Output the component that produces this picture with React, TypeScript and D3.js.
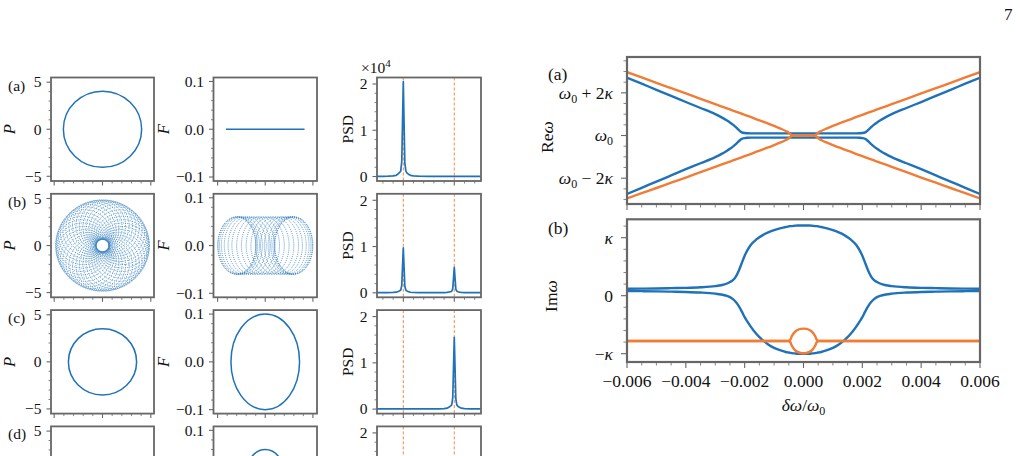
import React from "react";
import * as d3 from "d3";

const W = 1020;
const H = 456;
const BLUE = "#1f72b8";
const ORANGE = "#f07c35";
const AXIS = "#676767";
const SERIF = "'Liberation Serif', 'DejaVu Serif', 'Times New Roman', serif";

// ---------------- Left figure data ----------------
const rowLabels = ["(a)", "(b)", "(c)", "(d)"];
// single-mode circle radius in the P plane (0 = none)
const pRadius = [4.05, 0, 3.53, 2.1];
// row (b): two-mode trajectory drawn as a rosette of circles
const pRosetteAngles = [0, 10, 20, 30, 40, 50, 60, 70, 80, 90, 100, 110, 120, 130, 140, 150, 160, 170, 180, 190, 200, 210, 220, 230, 240, 250, 260, 270, 280, 290, 300, 310, 320, 330, 340, 350];
const pRosetteOffset = 2.1;
const pRosetteRadius = 2.75;
// F plane
const fLineHalf = [0.0825, 0, 0, 0];
const fEllipseRx = [0, 0, 0.072, 0.043];
const fEllipseRy = [0, 0, 0.1, 0.06];
const fRosetteCenters = [-0.06, -0.059, -0.056, -0.052, -0.046, -0.038, -0.03, -0.02, -0.01, 0, 0.01, 0.02, 0.03, 0.038, 0.046, 0.052, 0.056, 0.059, 0.06];
const fRosetteRx = 0.04;
const fRosetteRy = 0.06;
// PSD (x1e4)
const psdModeFreq = [0, 5];
const psdFreq = [-2.6, -2.0, -1.5, -1.0, -0.7, -0.5, -0.35, -0.25, -0.15, -0.08, 0, 0.08, 0.15, 0.25, 0.35, 0.5, 0.7, 1.0, 1.5, 2.5, 3.5, 4.0, 4.3, 4.5, 4.65, 4.75, 4.85, 4.92, 5.0, 5.08, 5.15, 5.25, 5.35, 5.5, 5.7, 6.0, 6.5, 7.0, 7.6];
const psdA = [0.004, 0.005, 0.007, 0.012, 0.025, 0.06, 0.09, 0.12, 0.33, 1.15, 2.05, 1.1, 0.29, 0.12, 0.08, 0.05, 0.025, 0.012, 0.007, 0.004, 0.003, 0.003, 0.003, 0.003, 0.003, 0.003, 0.003, 0.003, 0.003, 0.003, 0.003, 0.003, 0.003, 0.003, 0.003, 0.003, 0.003, 0.003, 0.003];
const psdB = [0.004, 0.005, 0.006, 0.008, 0.013, 0.03, 0.045, 0.06, 0.16, 0.55, 0.97, 0.52, 0.14, 0.06, 0.04, 0.025, 0.012, 0.007, 0.005, 0.004, 0.004, 0.006, 0.008, 0.018, 0.026, 0.035, 0.09, 0.31, 0.55, 0.3, 0.08, 0.035, 0.024, 0.015, 0.008, 0.005, 0.004, 0.004, 0.004];
const psdC = [0.003, 0.003, 0.003, 0.003, 0.003, 0.003, 0.003, 0.003, 0.003, 0.003, 0.003, 0.003, 0.003, 0.003, 0.003, 0.003, 0.003, 0.003, 0.003, 0.003, 0.003, 0.009, 0.02, 0.045, 0.07, 0.09, 0.25, 0.87, 1.55, 0.84, 0.22, 0.09, 0.06, 0.04, 0.02, 0.01, 0.005, 0.004, 0.003];
const psdD = [0.003, 0.003, 0.003, 0.003, 0.003, 0.003, 0.003, 0.003, 0.003, 0.003, 0.003, 0.003, 0.003, 0.003, 0.003, 0.003, 0.003, 0.003, 0.003, 0.003, 0.003, 0.005, 0.008, 0.018, 0.027, 0.036, 0.1, 0.34, 0.6, 0.33, 0.09, 0.036, 0.025, 0.016, 0.008, 0.005, 0.004, 0.003, 0.003];
const psdRows = [psdA, psdB, psdC, psdD];

// ---------------- Right figure data ----------------
const deltaX = [-0.006, -0.0055, -0.005, -0.0045, -0.004, -0.0035, -0.003, -0.0028, -0.0026, -0.0025, -0.0024, -0.0023, -0.0022, -0.0021, -0.002, -0.0019, -0.0018, -0.0016, -0.0014, -0.0012, -0.001, -0.0008, -0.0006, -0.0005, -0.00045, -0.0004, -0.0003, -0.0002, -0.0001, 0, 0.0001, 0.0002, 0.0003, 0.0004, 0.00045, 0.0005, 0.0006, 0.0008, 0.001, 0.0012, 0.0014, 0.0016, 0.0018, 0.0019, 0.002, 0.0021, 0.0022, 0.0023, 0.0024, 0.0025, 0.0026, 0.0028, 0.003, 0.0035, 0.004, 0.0045, 0.005, 0.0055, 0.006];
// Re(omega - omega0) in units of kappa
const blueReUp = [2.71, 2.43, 2.14, 1.86, 1.57, 1.29, 1.0, 0.86, 0.7, 0.61, 0.51, 0.39, 0.26, 0.15, 0.115, 0.105, 0.1, 0.1, 0.1, 0.1, 0.1, 0.1, 0.1, 0.1, 0.1, 0.1, 0.1, 0.1, 0.1, 0.1, 0.1, 0.1, 0.1, 0.1, 0.1, 0.1, 0.1, 0.1, 0.1, 0.1, 0.1, 0.1, 0.1, 0.105, 0.115, 0.15, 0.26, 0.39, 0.51, 0.61, 0.7, 0.86, 1.0, 1.29, 1.57, 1.86, 2.14, 2.43, 2.71];
const blueReLo = [-2.74, -2.45, -2.16, -1.87, -1.58, -1.3, -1.01, -0.87, -0.71, -0.62, -0.52, -0.4, -0.27, -0.16, -0.12, -0.105, -0.1, -0.1, -0.1, -0.1, -0.1, -0.1, -0.1, -0.1, -0.1, -0.1, -0.1, -0.1, -0.1, -0.1, -0.1, -0.1, -0.1, -0.1, -0.1, -0.1, -0.1, -0.1, -0.1, -0.1, -0.1, -0.1, -0.1, -0.105, -0.12, -0.16, -0.27, -0.4, -0.52, -0.62, -0.71, -0.87, -1.01, -1.3, -1.58, -1.87, -2.16, -2.45, -2.74];
const orangeReUp = [2.97, 2.72, 2.47, 2.22, 1.97, 1.72, 1.47, 1.37, 1.27, 1.22, 1.17, 1.12, 1.07, 1.02, 0.97, 0.92, 0.87, 0.76, 0.66, 0.56, 0.45, 0.335, 0.21, 0.13, 0.07, 0.02, 0, 0, 0, 0, 0, 0, 0, 0.02, 0.07, 0.13, 0.21, 0.335, 0.45, 0.56, 0.66, 0.76, 0.87, 0.92, 0.97, 1.02, 1.07, 1.12, 1.17, 1.22, 1.27, 1.37, 1.47, 1.72, 1.97, 2.22, 2.47, 2.72, 2.97];
const orangeReLo = [-2.95, -2.7, -2.46, -2.21, -1.97, -1.72, -1.47, -1.37, -1.27, -1.22, -1.17, -1.12, -1.07, -1.02, -0.97, -0.92, -0.87, -0.76, -0.66, -0.56, -0.45, -0.335, -0.21, -0.13, -0.07, -0.02, 0, 0, 0, 0, 0, 0, 0, -0.02, -0.07, -0.13, -0.21, -0.335, -0.45, -0.56, -0.66, -0.76, -0.87, -0.92, -0.97, -1.02, -1.07, -1.12, -1.17, -1.22, -1.27, -1.37, -1.47, -1.72, -1.97, -2.21, -2.46, -2.7, -2.95];
// Im(omega) in units of kappa
const blueImUp = [0.12, 0.122, 0.125, 0.13, 0.135, 0.145, 0.165, 0.18, 0.21, 0.235, 0.27, 0.33, 0.43, 0.56, 0.69, 0.79, 0.87, 0.97, 1.04, 1.09, 1.13, 1.16, 1.185, 1.195, 1.2, 1.2, 1.205, 1.21, 1.21, 1.21, 1.21, 1.21, 1.205, 1.2, 1.2, 1.195, 1.185, 1.16, 1.13, 1.09, 1.04, 0.97, 0.87, 0.79, 0.69, 0.56, 0.43, 0.33, 0.27, 0.235, 0.21, 0.18, 0.165, 0.145, 0.135, 0.13, 0.125, 0.122, 0.12];
const blueImLo = [0.08, 0.078, 0.075, 0.07, 0.065, 0.055, 0.035, 0.02, -0.005, -0.025, -0.06, -0.11, -0.18, -0.27, -0.37, -0.45, -0.53, -0.66, -0.76, -0.84, -0.9, -0.94, -0.97, -0.98, -0.985, -0.99, -0.995, -1.0, -1.0, -1.0, -1.0, -1.0, -0.995, -0.99, -0.985, -0.98, -0.97, -0.94, -0.9, -0.84, -0.76, -0.66, -0.53, -0.45, -0.37, -0.27, -0.18, -0.11, -0.06, -0.025, -0.005, 0.02, 0.035, 0.055, 0.065, 0.07, 0.075, 0.078, 0.08];
const orangeImUp = [-0.78, -0.78, -0.78, -0.78, -0.78, -0.78, -0.78, -0.78, -0.78, -0.78, -0.78, -0.78, -0.78, -0.78, -0.78, -0.78, -0.78, -0.78, -0.78, -0.78, -0.78, -0.78, -0.78, -0.775, -0.76, -0.7, -0.627, -0.591, -0.572, -0.567, -0.572, -0.591, -0.627, -0.7, -0.76, -0.775, -0.78, -0.78, -0.78, -0.78, -0.78, -0.78, -0.78, -0.78, -0.78, -0.78, -0.78, -0.78, -0.78, -0.78, -0.78, -0.78, -0.78, -0.78, -0.78, -0.78, -0.78, -0.78, -0.78];
const orangeImLo = [-0.78, -0.78, -0.78, -0.78, -0.78, -0.78, -0.78, -0.78, -0.78, -0.78, -0.78, -0.78, -0.78, -0.78, -0.78, -0.78, -0.78, -0.78, -0.78, -0.78, -0.78, -0.78, -0.78, -0.785, -0.8, -0.86, -0.933, -0.969, -0.988, -0.993, -0.988, -0.969, -0.933, -0.86, -0.8, -0.785, -0.78, -0.78, -0.78, -0.78, -0.78, -0.78, -0.78, -0.78, -0.78, -0.78, -0.78, -0.78, -0.78, -0.78, -0.78, -0.78, -0.78, -0.78, -0.78, -0.78, -0.78, -0.78, -0.78];

const xTickValsRight = [-0.006, -0.004, -0.002, 0, 0.002, 0.004, 0.006];
const xTickLabelsRight = ["\u22120.006", "\u22120.004", "\u22120.002", "0.000", "0.002", "0.004", "0.006"];

type Scale = d3.ScaleLinear<number, number>;

function minorOf(start: number, stop: number, step: number, majors: number[]) {
  const n = Math.round((stop - start) / step);
  const out: number[] = [];
  for (let i = 0; i <= n; i++) {
    const v = start + i * step;
    if (!majors.some((m) => Math.abs(m - v) < step * 1e-3)) out.push(v);
  }
  return out;
}

type FrameProps = {
  x: number; y: number; w: number; h: number;
  xs: Scale; ys: Scale;
  xMajor: number[]; xMinor: number[]; yMajor: number[]; yMinor: number[];
  yLabels?: React.ReactNode[]; xLabels?: React.ReactNode[];
  fs: number; majLen: number; minLen: number; pad: number; spineW: number;
  xLabelBase?: number;
};

function Frame(p: FrameProps) {
  const b = p.y + p.h;
  return (
    <g>
      {p.xMinor.map((v, i) => (
        <line key={"xn" + i} x1={p.xs(v)} x2={p.xs(v)} y1={b} y2={b + p.minLen} stroke={AXIS} strokeWidth={0.8} />
      ))}
      {p.xMajor.map((v, i) => (
        <line key={"xj" + i} x1={p.xs(v)} x2={p.xs(v)} y1={b} y2={b + p.majLen} stroke={AXIS} strokeWidth={1.1} />
      ))}
      {p.yMinor.map((v, i) => (
        <line key={"yn" + i} x1={p.x - p.minLen} x2={p.x} y1={p.ys(v)} y2={p.ys(v)} stroke={AXIS} strokeWidth={0.8} />
      ))}
      {p.yMajor.map((v, i) => (
        <line key={"yj" + i} x1={p.x - p.majLen} x2={p.x} y1={p.ys(v)} y2={p.ys(v)} stroke={AXIS} strokeWidth={1.1} />
      ))}
      {p.yLabels &&
        p.yMajor.map((v, i) =>
          p.ys(v) < H - 8 ? (
            <text key={"yl" + i} x={p.x - p.majLen - p.pad} y={p.ys(v)} dy="0.34em" textAnchor="end" fontSize={p.fs} fill="#111">
              {p.yLabels![i]}
            </text>
          ) : null
        )}
      {p.xLabels &&
        p.xMajor.map((v, i) => (
          <text key={"xl" + i} x={p.xs(v)} y={p.xLabelBase ?? b + 24} textAnchor="middle" fontSize={p.fs} fill="#111">
            {p.xLabels![i]}
          </text>
        ))}
      <rect x={p.x} y={p.y} width={p.w} height={p.h} fill="none" stroke={AXIS} strokeWidth={p.spineW} />
    </g>
  );
}

function pathOf(xa: number[], ya: number[], xs: Scale, ys: Scale, curve: d3.CurveFactory) {
  const pts = xa.map((v, i) => [v, ya[i]] as [number, number]);
  return d3.line<[number, number]>().x((d) => xs(d[0])).y((d) => ys(d[1])).curve(curve)(pts) || "";
}

export default function App() {
  const boxH = 103.5;
  const rowTop = (r: number) => 77.5 + 116.3 * r;
  const cols = [
    { x: 51, w: 103 },
    { x: 213.5, w: 103.5 },
    { x: 377, w: 104 },
  ];
  const leftFs = 15.5;

  const c1Major = [-5, 0, 5];
  const c1Minor = minorOf(-5, 5, 1, c1Major);
  const c2Major = [-0.1, 0, 0.1];
  const c2Minor = minorOf(-0.1, 0.1, 0.02, c2Major);
  const c3yMajor = [0, 1, 2];
  const c3yMinor = minorOf(0, 2, 0.2, c3yMajor);
  const c3xMajor = [0, 5];
  const c3xMinor = minorOf(-2, 7, 1, c3xMajor);

  const leftRows = rowLabels.map((lab, r) => {
    const top = rowTop(r);
    const bot = top + boxH;
    const xs1 = d3.scaleLinear().domain([-5.33, 5.33]).range([cols[0].x, cols[0].x + cols[0].w]);
    const ys1 = d3.scaleLinear().domain([-5.5, 5.5]).range([bot, top]);
    const xs2 = d3.scaleLinear().domain([-0.1086, 0.1086]).range([cols[1].x, cols[1].x + cols[1].w]);
    const ys2 = d3.scaleLinear().domain([-0.1083, 0.1083]).range([bot, top]);
    const xs3 = d3.scaleLinear().domain([-2.58, 7.62]).range([cols[2].x, cols[2].x + cols[2].w]);
    const ys3 = d3.scaleLinear().domain([-0.097, 2.14]).range([bot, top]);
    const mid = (top + bot) / 2;
    const showSideLabels = mid < H - 10;
    return (
      <g key={"row" + r}>
        <defs>
          {cols.map((c, ci) => (
            <clipPath id={`clip-${r}-${ci}`} key={ci}>
              <rect x={c.x} y={top} width={c.w} height={boxH} />
            </clipPath>
          ))}
        </defs>
        <text x={8} y={top + 13} fontSize={leftFs} fill="#111">{lab}</text>
        {/* column 1 : P plane */}
        <g clipPath={`url(#clip-${r}-0)`}>
          {pRadius[r] > 0 && (
            <ellipse cx={xs1(0)} cy={ys1(0)} rx={xs1(pRadius[r]) - xs1(0)} ry={ys1(0) - ys1(pRadius[r])} fill="none" stroke={BLUE} strokeWidth={1.5} />
          )}
          {r === 1 &&
            pRosetteAngles.map((a, i) => {
              const t = (a * Math.PI) / 180;
              return (
                <ellipse key={i} cx={xs1(pRosetteOffset * Math.cos(t))} cy={ys1(pRosetteOffset * Math.sin(t))}
                  rx={xs1(pRosetteRadius) - xs1(0)} ry={ys1(0) - ys1(pRosetteRadius)}
                  fill="none" stroke={BLUE} strokeWidth={0.8} strokeDasharray="0.9 1.3" />
              );
            })}
        </g>
        <Frame x={cols[0].x} y={top} w={cols[0].w} h={boxH} xs={xs1} ys={ys1} xMajor={c1Major} xMinor={c1Minor}
          yMajor={c1Major} yMinor={c1Minor} yLabels={["\u22125", "0", "5"]} fs={leftFs} majLen={4.5} minLen={2.5} pad={5} spineW={1.8} />
        {showSideLabels && (
          <text transform={`translate(15,${mid}) rotate(-90)`} textAnchor="middle" fontSize={leftFs + 1} fontStyle="italic" fill="#111">P</text>
        )}

        {/* column 2 : F plane */}
        <g clipPath={`url(#clip-${r}-1)`}>
          {fLineHalf[r] > 0 && (
            <line x1={xs2(-fLineHalf[r])} x2={xs2(fLineHalf[r])} y1={ys2(0)} y2={ys2(0)} stroke={BLUE} strokeWidth={1.6} />
          )}
          {fEllipseRx[r] > 0 && (
            <ellipse cx={xs2(0)} cy={ys2(0)} rx={xs2(fEllipseRx[r]) - xs2(0)} ry={ys2(0) - ys2(fEllipseRy[r])} fill="none" stroke={BLUE} strokeWidth={1.5} />
          )}
          {r === 1 &&
            fRosetteCenters.map((c, i) => (
              <ellipse key={i} cx={xs2(c)} cy={ys2(0)} rx={xs2(fRosetteRx) - xs2(0)} ry={ys2(0) - ys2(fRosetteRy)}
                fill="none" stroke={BLUE} strokeWidth={0.8} strokeDasharray="0.9 1.2" />
            ))}
        </g>
        <Frame x={cols[1].x} y={top} w={cols[1].w} h={boxH} xs={xs2} ys={ys2} xMajor={c2Major} xMinor={c2Minor}
          yMajor={c2Major} yMinor={c2Minor} yLabels={["\u22120.1", "0.0", "0.1"]} fs={leftFs} majLen={4.5} minLen={2.5} pad={5} spineW={1.8} />
        {showSideLabels && (
          <text transform={`translate(169,${mid}) rotate(-90)`} textAnchor="middle" fontSize={leftFs + 1} fontStyle="italic" fill="#111">F</text>
        )}

        {/* column 3 : PSD */}
        <g clipPath={`url(#clip-${r}-2)`}>
          {psdModeFreq.map((f, i) => (
            <line key={i} x1={xs3(f)} x2={xs3(f)} y1={top} y2={bot} stroke={ORANGE} strokeWidth={0.9} strokeDasharray="3 2" />
          ))}
          <path d={pathOf(psdFreq, psdRows[r], xs3, ys3, d3.curveLinear)} fill="none" stroke={BLUE} strokeWidth={1.7} strokeLinejoin="round" />
        </g>
        <Frame x={cols[2].x} y={top} w={cols[2].w} h={boxH} xs={xs3} ys={ys3} xMajor={c3xMajor} xMinor={c3xMinor}
          yMajor={c3yMajor} yMinor={c3yMinor} yLabels={["0", "1", "2"]} fs={leftFs} majLen={4.5} minLen={2.5} pad={5} spineW={1.8} />
        {showSideLabels && (
          <text transform={`translate(353,${mid}) rotate(-90)`} textAnchor="middle" fontSize={leftFs} fill="#111">PSD</text>
        )}
        {r === 0 && (
          <text x={361} y={73} fontSize={15.5} fill="#111">
            ×10<tspan fontSize={11} dy={-6}>4</tspan>
          </text>
        )}
      </g>
    );
  });

  // ---------- Right figure ----------
  const rx0 = 627, rx1 = 980;
  const xsR = d3.scaleLinear().domain([-0.006, 0.006]).range([rx0, rx1]);
  const aTop = 57, aBot = 204;
  const bTop = 219.3, bBot = 362;
  const ysA = d3.scaleLinear().domain([-3.21, 3.68]).range([aBot, aTop]);
  const ysB = d3.scaleLinear().domain([-1.143, 1.317]).range([bBot, bTop]);
  const rightFs = 17.5;
  const rxMinor = minorOf(-0.006, 0.006, 0.0005, xTickValsRight);
  const aMajor = [-2, 0, 2];
  const aMinor = minorOf(-3, 3.5, 0.5, aMajor);
  const bMajor = [-1, 0, 1];
  const bMinor = minorOf(-1, 1.2, 0.2, bMajor);
  const lw = 2.4;
  const curve = d3.curveMonotoneX;

  const omega0 = (suffix: React.ReactNode) => (
    <>
      <tspan fontStyle="italic">ω</tspan>
      <tspan fontSize={12} dy={4}>0</tspan>
      <tspan dy={-4}>{suffix}</tspan>
    </>
  );
  const aLabels = [
    <>{omega0(" \u2212 2")}<tspan fontStyle="italic">κ</tspan></>,
    <>{omega0("")}</>,
    <>{omega0(" + 2")}<tspan fontStyle="italic">κ</tspan></>,
  ];
  const bLabels = [
    <>{"\u2212"}<tspan fontStyle="italic">κ</tspan></>,
    <>0</>,
    <tspan fontStyle="italic">κ</tspan>,
  ];

  return (
    <svg width={W} height={H} viewBox={`0 0 ${W} ${H}`} style={{ position: "absolute", left: 0, top: 0, background: "#fff" }} fontFamily={SERIF}>
      <rect x={0} y={0} width={W} height={H} fill="#fff" />
      <text x={1004} y={20} fontSize={17} fill="#111">7</text>
      {leftRows}

      <defs>
        <clipPath id="clip-ra"><rect x={rx0} y={aTop} width={rx1 - rx0} height={aBot - aTop} /></clipPath>
        <clipPath id="clip-rb"><rect x={rx0} y={bTop} width={rx1 - rx0} height={bBot - bTop} /></clipPath>
      </defs>

      {/* (a) Real part */}
      <g clipPath="url(#clip-ra)">
        <path d={pathOf(deltaX, blueReUp, xsR, ysA, curve)} fill="none" stroke={BLUE} strokeWidth={lw} />
        <path d={pathOf(deltaX, blueReLo, xsR, ysA, curve)} fill="none" stroke={BLUE} strokeWidth={lw} />
        <path d={pathOf(deltaX, orangeReUp, xsR, ysA, curve)} fill="none" stroke={ORANGE} strokeWidth={lw} />
        <path d={pathOf(deltaX, orangeReLo, xsR, ysA, curve)} fill="none" stroke={ORANGE} strokeWidth={lw} />
      </g>
      <Frame x={rx0} y={aTop} w={rx1 - rx0} h={aBot - aTop} xs={xsR} ys={ysA} xMajor={xTickValsRight} xMinor={rxMinor}
        yMajor={aMajor} yMinor={aMinor} yLabels={aLabels} fs={rightFs} majLen={6} minLen={3.5} pad={8} spineW={2.2} />
      <text x={548} y={80} fontSize={rightFs} fill="#111">(a)</text>
      <text transform={`translate(553,137) rotate(-90)`} textAnchor="middle" fontSize={rightFs} fill="#111">
        Re<tspan fontStyle="italic">ω</tspan>
      </text>

      {/* (b) Imaginary part */}
      <g clipPath="url(#clip-rb)">
        <path d={pathOf(deltaX, blueImUp, xsR, ysB, curve)} fill="none" stroke={BLUE} strokeWidth={lw} />
        <path d={pathOf(deltaX, blueImLo, xsR, ysB, curve)} fill="none" stroke={BLUE} strokeWidth={lw} />
        <path d={pathOf(deltaX, orangeImUp, xsR, ysB, curve)} fill="none" stroke={ORANGE} strokeWidth={lw} />
        <path d={pathOf(deltaX, orangeImLo, xsR, ysB, curve)} fill="none" stroke={ORANGE} strokeWidth={lw} />
      </g>
      <Frame x={rx0} y={bTop} w={rx1 - rx0} h={bBot - bTop} xs={xsR} ys={ysB} xMajor={xTickValsRight} xMinor={rxMinor}
        yMajor={bMajor} yMinor={bMinor} yLabels={bLabels} xLabels={xTickLabelsRight} xLabelBase={386.5}
        fs={rightFs} majLen={6} minLen={3.5} pad={8} spineW={2.2} />
      <text x={548} y={234} fontSize={rightFs} fill="#111">(b)</text>
      <text transform={`translate(557,296) rotate(-90)`} textAnchor="middle" fontSize={rightFs} fill="#111">
        Im<tspan fontStyle="italic">ω</tspan>
      </text>
      <text x={(rx0 + rx1) / 2} y={411} textAnchor="middle" fontSize={rightFs} fill="#111">
        <tspan fontStyle="italic">δω</tspan>/<tspan fontStyle="italic">ω</tspan>
        <tspan fontSize={12} dy={4}>0</tspan>
      </text>
    </svg>
  );
}
